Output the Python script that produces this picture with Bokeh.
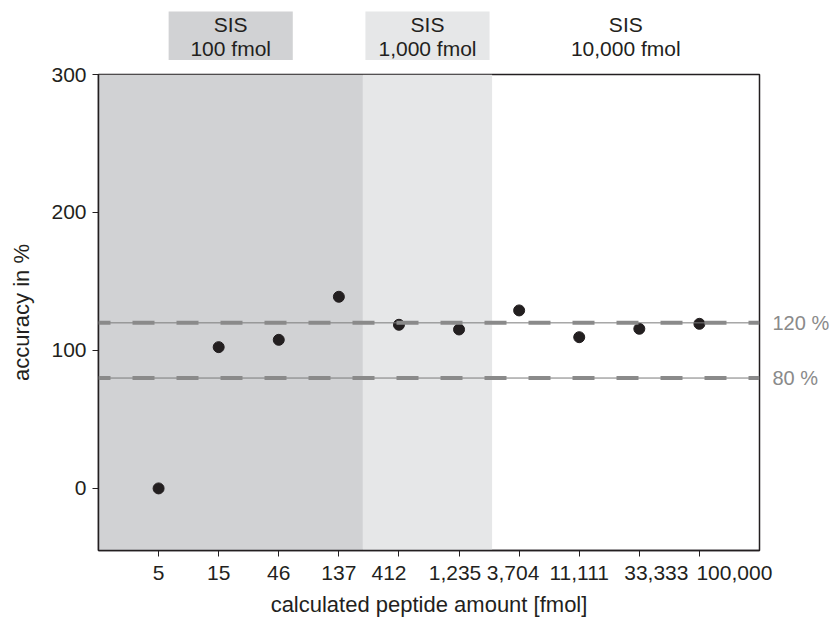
from bokeh.plotting import figure
from bokeh.layouts import column
from bokeh.models import Range1d, Span, LinearAxis, FixedTicker, ColumnDataSource
from bokeh.core.properties import value
from bokeh.embed import file_html
from bokeh.resources import INLINE

# calculated peptide amounts [fmol] and measured accuracy [%]
amounts = ["5", "15", "46", "137", "412", "1,235", "3,704", "11,111", "33,333", "100,000"]
accuracy = [0, 102.4, 107.7, 138.9, 118.6, 115.2, 129.0, 109.6, 115.7, 119.3]

# SIS spike levels and the dilution steps they cover (category index edges)
sis_levels = ["100 fmol", "1,000 fmol", "10,000 fmol"]
sis_edges = [-1.0, 3.4, 5.55, 10.0]
sis_fills = ["#d1d2d4", "#e6e7e8", None]

# acceptance limits
limits = [120, 80]
limit_labels = ["120 %", "80 %"]

yticks = [0, 100, 200, 300]

# sideways nudge of crowded tick labels (in category steps)
label_nudge = [0, 0, 0, 0, -0.166, -0.067, -0.1, 0, 0.283, 0.582]

FONT = "Liberation Sans"
INK = "#231f20"
GREY = "#8a8a8a"

xr = Range1d(sis_edges[0], sis_edges[-1])

# ---- header strip with the SIS level boxes ----
HEAD_H = 60
head = figure(width=835, height=HEAD_H, output_backend="svg", toolbar_location=None,
              x_range=xr, y_range=Range1d(0, HEAD_H),
              min_border_left=98, min_border_right=76, min_border_top=0, min_border_bottom=0)
head.axis.visible = False
head.grid.visible = False
head.outline_line_color = None

mids = [(sis_edges[i] + sis_edges[i + 1]) / 2 for i in range(len(sis_levels))]
boxed = [i for i, f in enumerate(sis_fills) if f is not None]
box_half = 1.033
head.quad(left=[mids[i] - box_half for i in boxed], right=[mids[i] + box_half for i in boxed],
          bottom=0, top=HEAD_H - 11, fill_color=[sis_fills[i] for i in boxed], line_color=None)
head.text(x=mids, y=[HEAD_H - 23.5] * len(mids), text=["SIS"] * len(mids),
          text_align="center", text_baseline="middle", text_font=value(FONT),
          text_font_size="21px", text_color=INK)
head.text(x=mids, y=[0.5] * len(mids), text=sis_levels,
          text_align="center", text_baseline="bottom", text_font=value(FONT),
          text_font_size="21px", text_color=INK)

# ---- main accuracy plot ----
p = figure(width=835, height=619 - HEAD_H, output_backend="svg", toolbar_location=None,
           x_range=xr, y_range=Range1d(-45, 300),
           min_border_left=98, min_border_right=76, min_border_top=74 - HEAD_H,
           min_border_bottom=69, background_fill_color="white", border_fill_color="white")
p.grid.visible = False
p.outline_line_color = INK
p.outline_line_width = 1.5

for i in boxed:
    p.quad(left=sis_edges[i], right=sis_edges[i + 1], bottom=-45, top=300,
           fill_color=sis_fills[i], line_color=None, level="underlay")

# acceptance limits: thin solid line with a heavy dashed overlay
for lim in limits:
    p.add_layout(Span(location=lim, dimension="width", line_color="#7a7a7a", line_width=1))
    p.add_layout(Span(location=lim, dimension="width", line_color=GREY, line_width=4,
                      line_dash="22 22", line_dash_offset=10))

src = ColumnDataSource(data=dict(x=list(range(len(amounts))), y=accuracy))
p.scatter("x", "y", source=src, size=11, fill_color=INK, line_color=INK)

# x axis: tick marks on the categories, labels at their (nudged) spots
label_pos = [i + d for i, d in enumerate(label_nudge)]
p.xaxis.ticker = FixedTicker(ticks=label_pos, minor_ticks=list(range(len(amounts))))
p.xaxis.major_label_overrides = {pos: a for pos, a in zip(label_pos, amounts)}
p.xaxis.major_tick_line_color = None
p.xaxis.minor_tick_line_color = INK
p.xaxis.minor_tick_out = 6
p.xaxis.minor_tick_in = 0
p.xaxis.major_tick_out = 6
p.xaxis.major_tick_in = 0
p.xaxis.axis_label = "calculated peptide amount [fmol]"

p.yaxis.ticker = FixedTicker(ticks=yticks)
p.yaxis.axis_label = "accuracy in %"
p.yaxis.major_tick_line_color = INK
p.yaxis.major_tick_out = 6
p.yaxis.major_tick_in = 0
p.yaxis.minor_tick_line_color = None

for ax in (p.xaxis, p.yaxis):
    ax.axis_line_color = INK
    ax.axis_line_width = 1.5
    ax.major_label_text_font = FONT
    ax.major_label_text_font_size = "21px"
    ax.major_label_text_color = INK
    ax.axis_label_text_font = FONT
    ax.axis_label_text_font_size = "22px"
    ax.axis_label_text_font_style = "normal"
    ax.axis_label_text_color = INK

p.xaxis.major_label_standoff = 9
p.xaxis.axis_label_standoff = 9
p.yaxis.major_label_standoff = 6
p.yaxis.axis_label_standoff = 14

# limit labels on the right-hand side
lim_axis = LinearAxis(ticker=FixedTicker(ticks=limits),
                      major_label_overrides={l: t for l, t in zip(limits, limit_labels)},
                      axis_line_color=None, major_tick_line_color=None,
                      minor_tick_line_color=None, major_tick_out=0, major_tick_in=0,
                      major_label_standoff=13, major_label_text_font=FONT,
                      major_label_text_font_size="20px", major_label_text_color=GREY)
p.add_layout(lim_axis, "right")

layout = column(head, p, spacing=0)
open("out.html", "w").write(file_html(layout, INLINE))
